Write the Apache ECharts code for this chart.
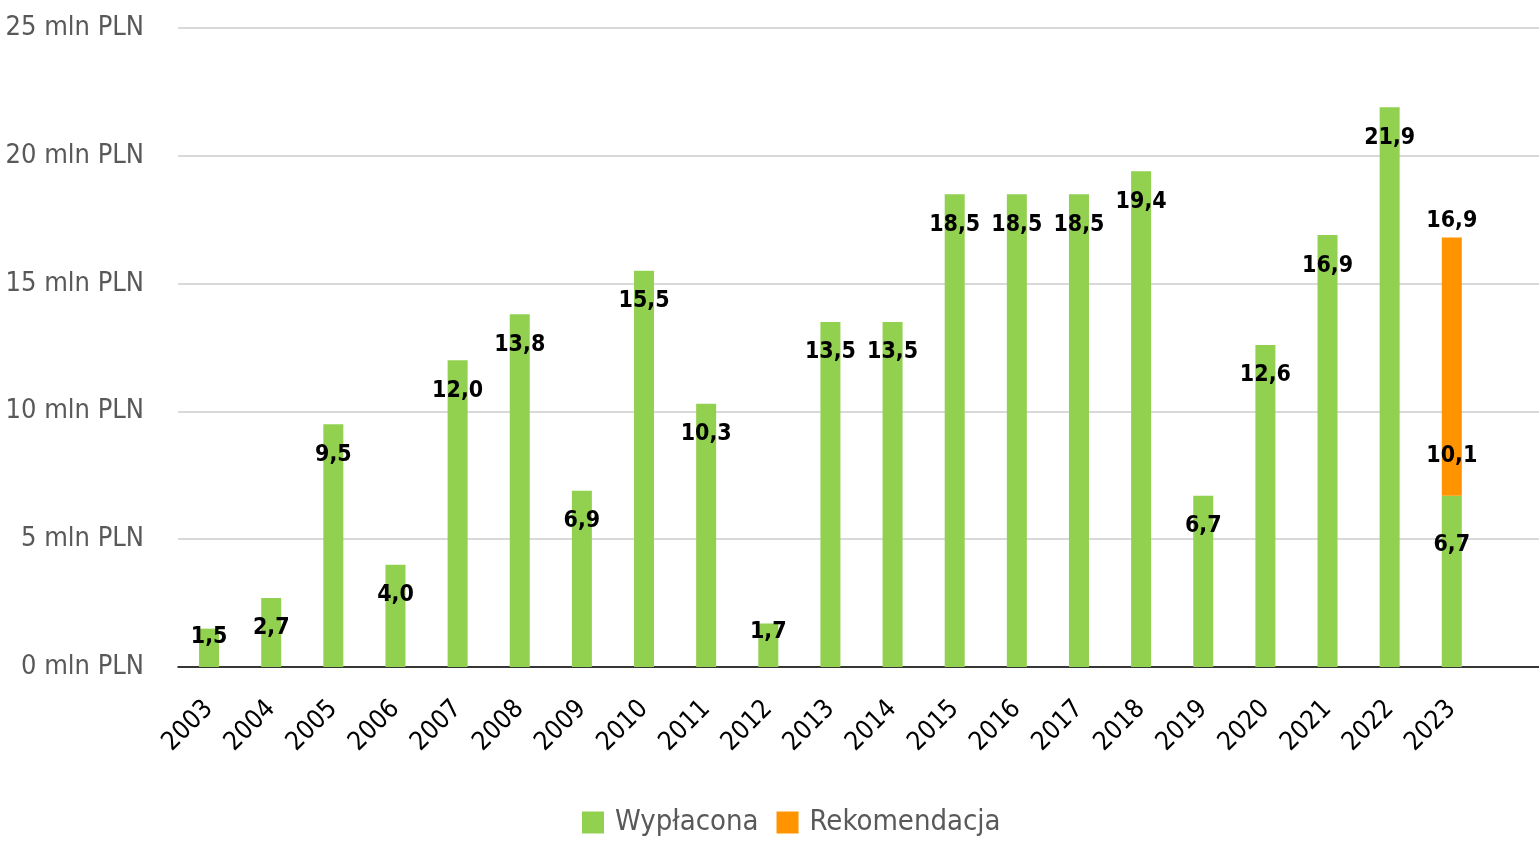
<!DOCTYPE html>
<html>
<head>
<meta charset="utf-8">
<script src="https://cdn.jsdelivr.net/npm/echarts@6/dist/echarts.min.js"></script>
<style>
  html, body { margin: 0; padding: 0; background: #fff; }
  #chart { width: 1539px; height: 842px; }
</style>
</head>
<body>
<div id="chart"></div>
<script>
var years = ['2003', '2004', '2005', '2006', '2007', '2008', '2009', '2010', '2011', '2012', '2013',
             '2014', '2015', '2016', '2017', '2018', '2019', '2020', '2021', '2022', '2023', ''];
var paid = [1.5, 2.7, 9.5, 4.0, 12.0, 13.8, 6.9, 15.5, 10.3, 1.7, 13.5,
            13.5, 18.5, 18.5, 18.5, 19.4, 6.7, 12.6, 16.9, 21.9, 6.7, null];
var recommended = [null, null, null, null, null, null, null, null, null, null, null,
                   null, null, null, null, null, null, null, null, null, 10.1, null];
var totals = [null, null, null, null, null, null, null, null, null, null, null,
              null, null, null, null, null, null, null, null, null, 16.9, null];

var FONT = '"DejaVu Sans Condensed", "DejaVu Sans", sans-serif';

var fmt = function(p) {
    return p.value == null ? '' : Number(p.value).toFixed(1).replace('.', ',');
};

var labelFont = {
    fontFamily: FONT,
    fontWeight: 'bold',
    fontSize: 23,
    color: '#000'
};

// green bars, with a few labels nudged like the original
var paidData = paid.map(function(v, i) {
    if (v === null) return null;
    if (v < 2) return { value: v, label: { distance: -3 } };
    if (years[i] === '2023') return { value: v, label: { distance: 38 } };
    return v;
});

var chart = echarts.init(document.getElementById('chart'));
chart.setOption({
    animation: false,
    grid: { left: 178, right: -6, top: 28, bottom: 175, outerBoundsMode: 'none', containLabel: false },
    legend: {
        data: ['Wypłacona', 'Rekomendacja'],
        bottom: 0,
        left: 577,
        itemWidth: 22,
        itemHeight: 22,
        itemGap: 18,
        icon: 'rect',
        textStyle: { fontFamily: FONT, fontSize: 29, color: '#595959', padding: [0, 0, 0, 6] }
    },
    xAxis: {
        type: 'category',
        data: years,
        axisLine: { lineStyle: { color: '#000', width: 1.5 } },
        axisTick: { show: false },
        axisLabel: {
            rotate: 45,
            interval: 0,
            margin: 38,
            fontFamily: FONT,
            fontSize: 26,
            color: '#000'
        }
    },
    yAxis: {
        type: 'value',
        min: 0,
        max: 25,
        interval: 5,
        axisLine: { show: false },
        axisTick: { show: false },
        splitLine: { lineStyle: { color: '#d9d9d9', width: 2 } },
        axisLabel: {
            margin: 34,
            fontFamily: FONT,
            fontSize: 27,
            color: '#595959',
            formatter: function(v) { return v + ' mln PLN'; }
        }
    },
    series: [
        {
            name: 'Wypłacona',
            type: 'bar',
            stack: 'a',
            barWidth: 20,
            itemStyle: { color: '#92d050' },
            label: Object.assign({ show: true, position: 'insideTop', distance: 19, formatter: fmt }, labelFont),
            data: paidData
        },
        {
            name: 'Rekomendacja',
            type: 'bar',
            stack: 'a',
            barWidth: 20,
            itemStyle: { color: '#ff9300' },
            label: Object.assign({ show: true, position: 'insideBottom', distance: 28, formatter: fmt }, labelFont),
            data: recommended
        },
        {
            name: 'Suma',
            type: 'bar',
            barWidth: 20,
            barGap: '-100%',
            itemStyle: { color: 'rgba(0,0,0,0)' },
            label: Object.assign({ show: true, position: 'top', distance: 3, formatter: fmt }, labelFont),
            data: totals,
            z: 0
        }
    ]
});
</script>
</body>
</html>
